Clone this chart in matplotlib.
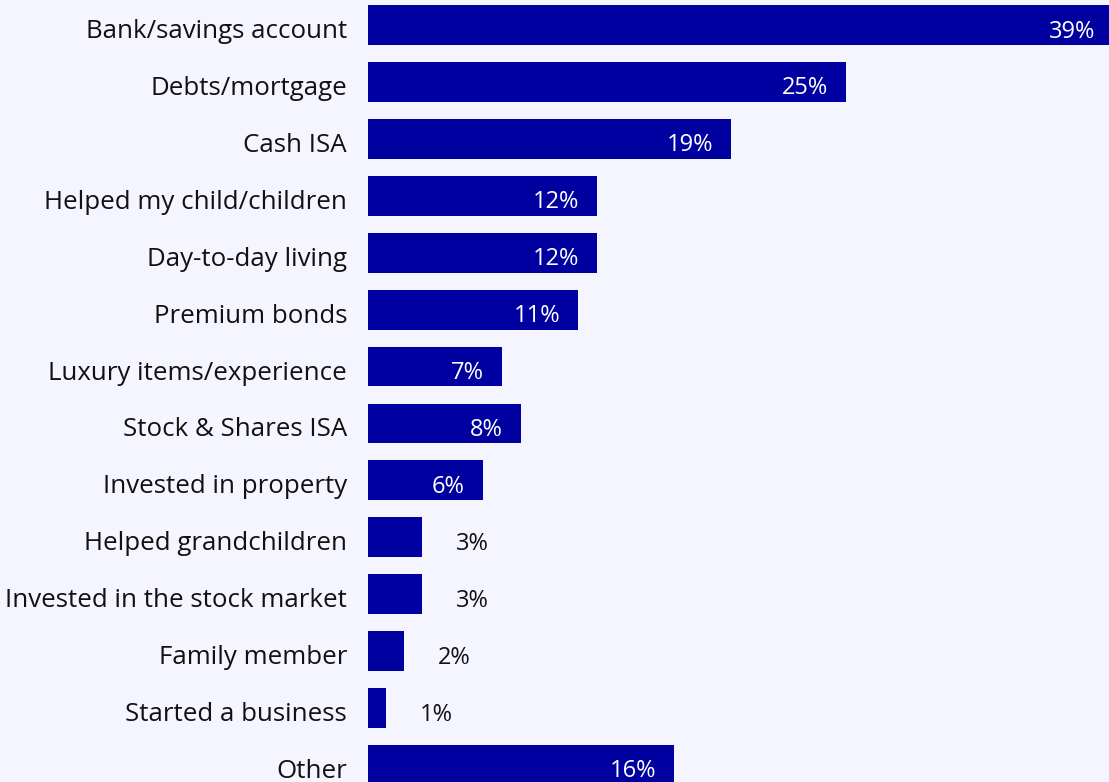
import matplotlib
matplotlib.use("Agg")
import matplotlib.pyplot as plt

categories = ["Bank/savings account", "Debts/mortgage", "Cash ISA",
              "Helped my child/children", "Day-to-day living", "Premium bonds",
              "Luxury items/experience", "Stock & Shares ISA", "Invested in property",
              "Helped grandchildren", "Invested in the stock market", "Family member",
              "Started a business", "Other"]
values = [39, 25, 19, 12, 12, 11, 7, 8, 6, 2.83, 2.83, 1.88, 0.94, 16]
value_labels = ["39%", "25%", "19%", "12%", "12%", "11%", "7%", "8%", "6%",
                "3%", "3%", "2%", "1%", "16%"]

BG = "#F5F5FF"
BAR = "#0000A0"
FONT = ["Open Sans", "DejaVu Sans"]
PX = 0.72  # points per pixel at dpi 100

fig = plt.figure(figsize=(11.09, 7.82), dpi=100, facecolor=BG)
ax = fig.add_axes([368 / 1109, 0, (1109 - 368) / 1109, 1])
ax.set_facecolor(BG)

y = list(range(len(categories)))
ax.barh(y, values, height=0.70, color=BAR)
ax.set_xlim(0, 38.75)
ax.set_ylim(13.30, -0.44)

ax.set_yticks([])
ax.set_xticks([])
for s in ax.spines.values():
    s.set_visible(False)

for yi, cat in zip(y, categories):
    ax.annotate(cat, xy=(0, yi), xytext=(-21 * PX, -6.5 * PX), textcoords="offset points",
                ha="right", va="center", color="#111111", fontsize=18.6, family=FONT,
                annotation_clip=False)

for yi, v, lab in zip(y, values, value_labels):
    if v >= 5:
        ax.annotate(lab, xy=(v, yi), xytext=(-18 * PX, -6.5 * PX), textcoords="offset points",
                    ha="right", va="center", color="white", fontsize=17, family=FONT,
                    annotation_clip=False)
    else:
        ax.annotate(lab, xy=(v, yi), xytext=(50 * PX, -6.5 * PX), textcoords="offset points",
                    ha="center", va="center", color="#111111", fontsize=17, family=FONT)

fig.savefig("out.png", dpi=100, facecolor=BG)
